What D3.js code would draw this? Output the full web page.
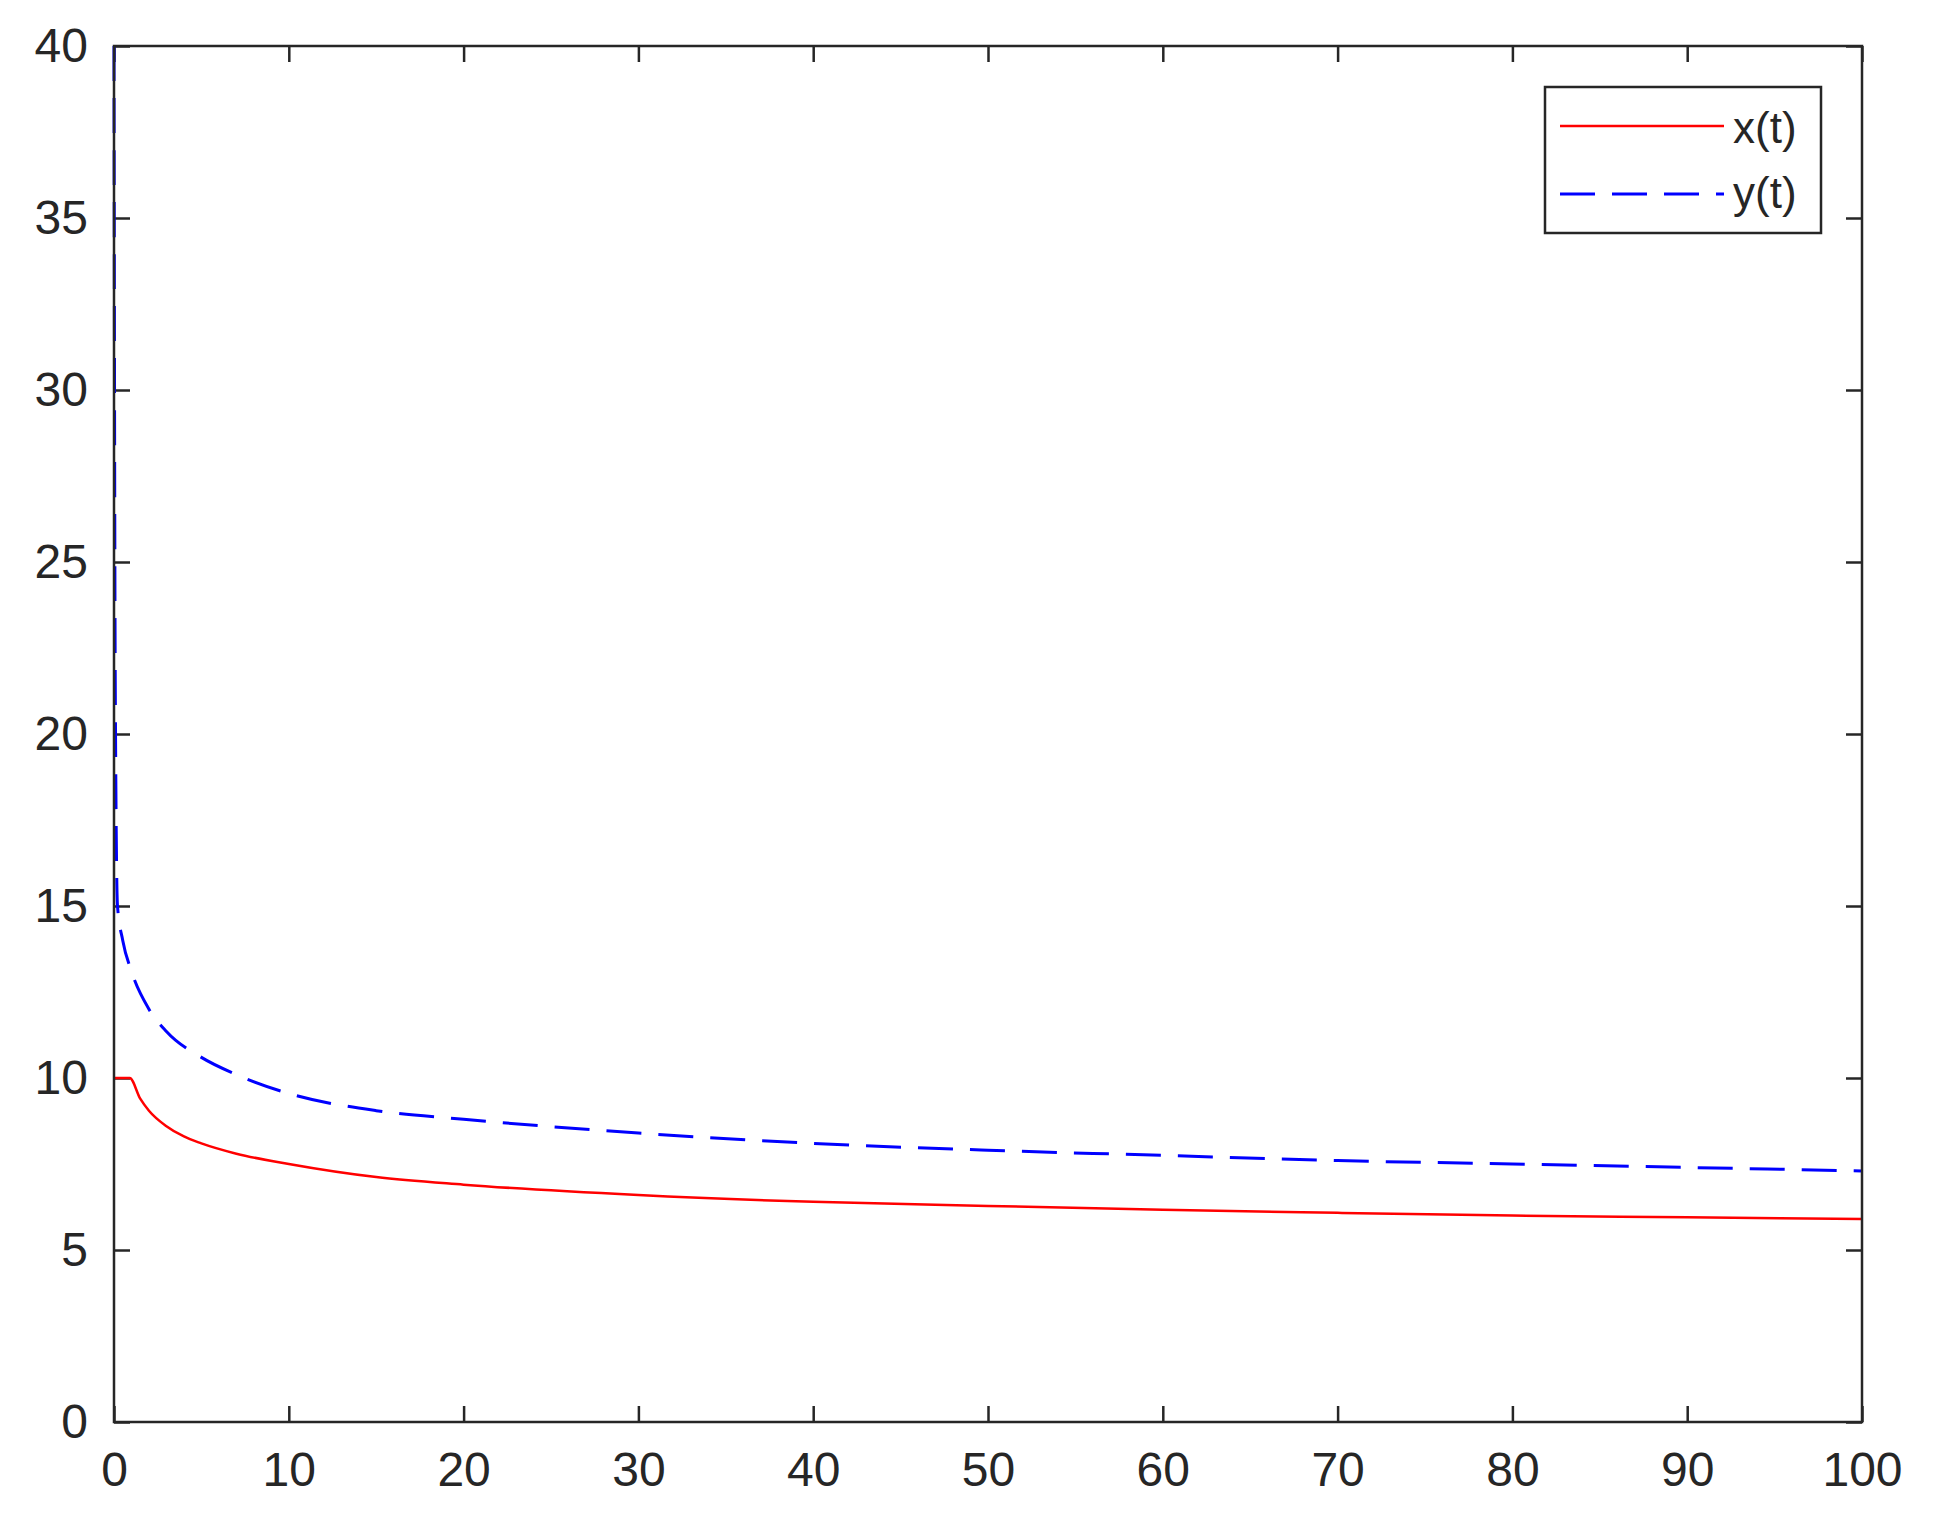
<!DOCTYPE html>
<html><head><meta charset="utf-8">
<script src="https://cdn.jsdelivr.net/npm/d3@7"></script>
<style>body{margin:0;background:#fff}svg{display:block}</style>
</head><body>
<svg id="c" width="1935" height="1529"></svg>
<script>
const xTicks=[0,10,20,30,40,50,60,70,80,90,100];
const yTicks=[0,5,10,15,20,25,30,35,40];
const tX=[0,0.9,1.5,2,3,4,5,7,10,15,20,30,40,50,60,70,80,90,100];
const xVals=[10,10,9.4,9.05,8.6,8.3,8.1,7.8,7.5,7.12,6.9,6.6,6.4,6.28,6.17,6.08,6.0,5.95,5.9];
const tY=[0,0.05,0.1,0.2,0.5,1,2,3,5,7,10,15,20,30,40,50,60,70,80,90,100];
const yVals=[40,25,19,15,14,13.1,12,11.35,10.6,10.1,9.55,9.05,8.8,8.4,8.1,7.9,7.75,7.6,7.5,7.4,7.3];
const L=114,R=1862,T=46,B=1422;
const svg=d3.select("#c");
const x=d3.scaleLinear().domain([0,100]).range([L,R]);
const y=d3.scaleLinear().domain([0,40]).range([B,T]);
const font="'Liberation Sans', Arial, sans-serif";
const ax=(sel)=>{sel.selectAll("path").remove();sel.selectAll("line").attr("stroke","#262626").attr("stroke-width",2.5);sel.selectAll("text").attr("font-family",font).attr("font-size",48).attr("fill","#262626");};
svg.append("g").attr("transform",`translate(0,${B})`).call(d3.axisBottom(x).tickValues(xTicks).tickSize(-16).tickPadding(30)).call(ax);
svg.append("g").attr("transform",`translate(0,${T})`).call(d3.axisTop(x).tickValues(xTicks).tickSize(-16).tickFormat("")).call(ax);
svg.append("g").attr("transform",`translate(${L},0)`).call(d3.axisLeft(y).tickValues(yTicks).tickSize(-16).tickPadding(26)).call(ax);
svg.append("g").attr("transform",`translate(${R},0)`).call(d3.axisRight(y).tickValues(yTicks).tickSize(-16).tickFormat("")).call(ax);
const line=d3.line().curve(d3.curveMonotoneX);
svg.append("path").attr("d",line(tX.map((t,i)=>[x(t),y(xVals[i])]))).attr("fill","none").attr("stroke","#ff0000").attr("stroke-width",2.5);
svg.append("path").attr("d",line(tY.map((t,i)=>[x(t),y(yVals[i])]))).attr("fill","none").attr("stroke","#0000ff").attr("stroke-width",3).attr("stroke-dasharray","35 17");
svg.append("rect").attr("x",L).attr("y",T).attr("width",R-L).attr("height",B-T).attr("fill","none").attr("stroke","#262626").attr("stroke-width",2.5);
const lg=svg.append("g");
lg.append("rect").attr("x",1545).attr("y",87).attr("width",276).attr("height",146).attr("fill","#fff").attr("stroke","#262626").attr("stroke-width",2.5);
lg.append("line").attr("x1",1560).attr("x2",1724).attr("y1",126).attr("y2",126).attr("stroke","#ff0000").attr("stroke-width",2.5);
lg.append("line").attr("x1",1560).attr("x2",1724).attr("y1",194).attr("y2",194).attr("stroke","#0000ff").attr("stroke-width",3).attr("stroke-dasharray","35 17");
lg.append("text").attr("x",1733).attr("y",143).text("x(t)").attr("font-family",font).attr("font-size",44).attr("fill","#262626");
lg.append("text").attr("x",1733).attr("y",208).text("y(t)").attr("font-family",font).attr("font-size",44).attr("fill","#262626");
</script>
</body></html>
